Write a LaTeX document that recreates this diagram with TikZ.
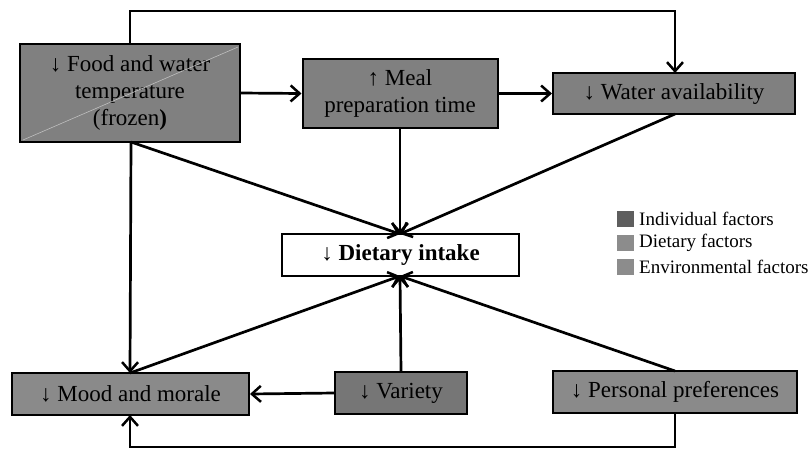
\documentclass[tikz,border=0pt]{standalone}
\usepackage{fontspec}
\setmainfont{Liberation Serif}
\usetikzlibrary{arrows.meta}
\definecolor{boxA}{HTML}{808080}
\definecolor{boxB}{HTML}{8A8A8A}
\definecolor{boxC}{HTML}{767676}
\definecolor{legA}{HTML}{5E5E5E}
\definecolor{legB}{HTML}{8C8C8C}
\begin{document}
\begin{tikzpicture}[x=1pt,y=-1pt,
  fbox/.style={draw=black,line width=2pt,fill=boxA,inner sep=0pt,align=center,
    font=\fontsize{23}{27}\selectfont},
  conn/.style={line width=2.7pt,-{Straight Barb[length=9pt,width=16pt,line width=2.5pt]}},
  legsq/.style={minimum width=17pt,minimum height=16pt,inner sep=0pt},
  legtx/.style={anchor=west,inner sep=0pt,font=\fontsize{19}{22}\selectfont}]
\useasboundingbox (0,0) rectangle (809,451);
% boxes
\node[fbox,minimum width=220pt,minimum height=98pt] (food) at (130,93)
  {↓ Food and water\\temperature\\(frozen\textbf{)}};
\draw[line width=0.6pt,color=black!25] (23,140) -- (238,47);
\node[fbox,minimum width=195pt,minimum height=69pt] (meal) at (400,93.5)
  {↑ Meal\\preparation time};
\node[fbox,minimum width=242pt,minimum height=41pt] (water) at (674,93.5)
  {↓ Water availability};
\node[fbox,fill=white,minimum width=237pt,minimum height=42pt,font=\fontsize{23}{27}\selectfont\bfseries] (diet) at (400.5,255)
  {↓ Dietary intake};
\node[fbox,fill=boxB,minimum width=237pt,minimum height=42pt] (mood) at (130.5,394)
  {↓ Mood and morale};
\node[fbox,fill=boxC,minimum width=132pt,minimum height=42pt] (variety) at (401,393)
  {↓ Variety};
\node[fbox,fill=boxB,minimum width=244pt,minimum height=42pt] (pers) at (675,392)
  {↓ Personal preferences};
% legend
\node[legsq,fill=legA] (l1) at (625.5,219) {};
\node[legsq,fill=legB] (l2) at (625.5,243) {};
\node[legsq,fill=legB] (l3) at (625.5,267) {};
\node[legtx] (t1) at (639,219) {Individual factors};
\node[legtx] (t2) at (639,243) {Dietary factors};
\node[legtx] (t3) at (639,267) {Environmental factors};
% coordinates
\coordinate (ftop) at (130,44);
\coordinate (fbot) at (131,142);
\coordinate (dtop) at (400,234);
\coordinate (dbot) at (400,276);
\coordinate (mtop) at (130,373);
\coordinate (mbot) at (130,415);
\coordinate (wtop) at (675,73);
\coordinate (wbot) at (675,114);
\coordinate (ptop) at (675,371);
\coordinate (pbot) at (675,413);
% connectors
\draw[conn] (ftop) -- (130,11) -| (wtop);
\draw[conn] (food.east) -- (meal.west);
\draw[conn] (meal.east) -- (water.west);
\draw[conn] (fbot) -- (dtop);
\draw[conn] (fbot) -- (mtop);
\draw[conn] (meal.south) -- (dtop);
\draw[conn] (wbot) -- (dtop);
\draw[conn] (mtop) -- (dbot);
\draw[conn] (variety.north) -- (dbot);
\draw[conn] (ptop) -- (dbot);
\draw[conn] (variety.west) -- (mood.east);
\draw[conn] (pbot) -- (675,447) -| (mbot);
\end{tikzpicture}
\end{document}
